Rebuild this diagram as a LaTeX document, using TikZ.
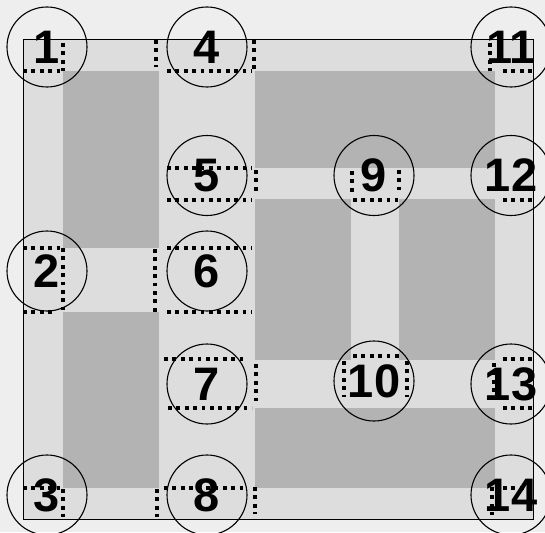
\documentclass[tikz,border=0pt]{standalone}
\usepackage{fontspec}
\setmainfont{Liberation Sans}
\definecolor{bggray}{gray}{0.933}
\definecolor{lightcell}{gray}{0.867}
\definecolor{darkcell}{gray}{0.702}
\tikzset{
  dotline/.style={line width=3.8pt, dash pattern=on 3.8pt off 4.6pt},
  lab/.style={circle, draw, line width=1.1pt, minimum size=80pt, inner sep=0pt,
    font=\bfseries\fontsize{47}{47}\selectfont},
  darkblock/.style={fill=darkcell},
}
\begin{document}
\begin{tikzpicture}[x=1pt,y=-1pt]
\useasboundingbox (0,0) rectangle (545,532);
\fill[bggray] (0,0) rectangle (545,532);
% light interior
\fill[lightcell] (23,39) rectangle (533,519);
% dark blocks
\fill[darkblock] (63,71) rectangle (159,248);
\fill[darkblock] (63,312) rectangle (159,488);
\fill[darkblock] (255,71) rectangle (495,168);
\fill[darkblock] (255,199) rectangle (351,360);
\fill[darkblock] (399,199) rectangle (495,360);
\fill[darkblock] (255,408) rectangle (495,488);
% outer border
\draw[line width=0.9pt] (23,39) rectangle (533,519);
% dotted lines
% node 1
\draw[dotline] (23,71) -- (63,71);
\draw[dotline] (63,43) -- (63,71);
% node 4
\draw[dotline] (156,40) -- (156,67);
\draw[dotline] (167,71) -- (252,71);
\draw[dotline] (254,40) -- (254,70);
% node 11
\draw[dotline] (490,43) -- (490,71);
\draw[dotline] (503,71) -- (532,71);
% node 5
\draw[dotline] (167,168) -- (252,168);
\draw[dotline] (167,200) -- (252,200);
\draw[dotline] (256,170) -- (256,191);
% node 9
\draw[dotline] (352,171) -- (352,192);
\draw[dotline] (399,170) -- (399,190);
\draw[dotline] (353,200) -- (398,200);
% node 12
\draw[dotline] (497,170) -- (497,192);
\draw[dotline] (503,200) -- (532,200);
% node 2
\draw[dotline] (23,248) -- (63,248);
\draw[dotline] (63,248) -- (63,310);
\draw[dotline] (23,312) -- (55,312);
\draw[dotline] (155,249) -- (155,312);
% node 6
\draw[dotline] (167,248) -- (252,248);
\draw[dotline] (167,312) -- (252,312);
% node 7
\draw[dotline] (164,359) -- (247,359);
\draw[dotline] (168,408) -- (252,408);
\draw[dotline] (256,364) -- (256,401);
% node 10
\draw[dotline] (353,356) -- (400,356);
\draw[dotline] (344,361) -- (344,397);
\draw[dotline] (407,361) -- (407,397);
% node 13
\draw[dotline] (503,359) -- (532,359);
\draw[dotline] (494,363) -- (494,400);
\draw[dotline] (503,408) -- (532,408);
% node 3
\draw[dotline] (23,488) -- (63,488);
\draw[dotline] (63,489) -- (63,517);
% node 8
\draw[dotline] (157,489) -- (157,517);
\draw[dotline] (164,488) -- (247,488);
\draw[dotline] (255,487) -- (255,514);
% node 14
\draw[dotline] (492,487) -- (492,515);
\draw[dotline] (503,488) -- (532,488);
% circled labels
\node[lab] (n1) at (47,47) {1};
\node[lab] (n4) at (207,47) {4};
\node[lab] (n11) at (511,47) {11};
\node[lab] (n5) at (207,175.5) {5};
\node[lab] (n9) at (374,175.5) {9};
\node[lab] (n12) at (511,175.5) {12};
\node[lab] (n2) at (47,271) {2};
\node[lab] (n6) at (207,271) {6};
\node[lab] (n7) at (207,384) {7};
\node[lab] (n10) at (374,381) {10};
\node[lab] (n13) at (511,384) {13};
\node[lab] (n3) at (47,495) {3};
\node[lab] (n8) at (207,495) {8};
\node[lab] (n14) at (511,495) {14};
\end{tikzpicture}
\end{document}
